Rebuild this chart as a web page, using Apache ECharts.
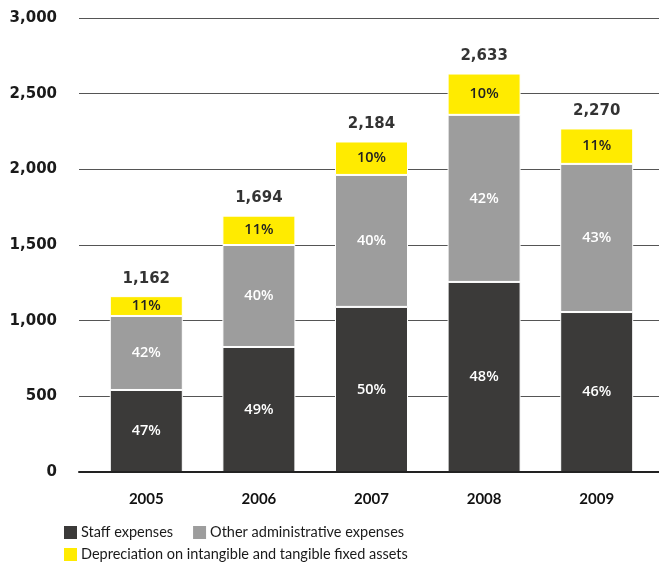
<!DOCTYPE html>
<html><head><meta charset="utf-8">
<script src="https://cdn.jsdelivr.net/npm/echarts@6/dist/echarts.min.js"></script>
<style>html,body{margin:0;padding:0;background:#fff}#c{width:659px;height:565px}</style>
</head><body><div id="c"></div>
<script>
var years = ['2005','2006','2007','2008','2009'];
var staff = [542, 826, 1091, 1256, 1057];
var other = [489, 674, 872, 1104, 979];
var depreciation = [131, 194, 221, 273, 234];
var totals = [1162, 1694, 2184, 2633, 2270];
var staffPct = ['47%','49%','50%','48%','46%'];
var otherPct = ['42%','40%','40%','42%','43%'];
var depPct = ['11%','11%','10%','10%','11%'];
var yTicks = [0, 500, 1000, 1500, 2000, 2500, 3000];

var FONT = 'Lato, "DejaVu Sans", sans-serif';
var HEAVY = '"DejaVu Sans", sans-serif';
var PCT = '"Open Sans", Lato, sans-serif';
var chart = echarts.init(document.getElementById('c'));
function fmt(v){ return v.toLocaleString('en-US'); }
function seg(name, data, pct, color, txt){
  return {
    name: name, type: 'bar', stack: 'a', xAxisIndex: 0, yAxisIndex: 0,
    data: data, barWidth: 73,
    itemStyle: {color: color, borderColor: '#fff', borderWidth: 1},
    label: {show: true, position: 'inside', color: txt, fontFamily: PCT, fontSize: 14.5, fontWeight: 600,
      formatter: function(p){ return pct[p.dataIndex]; }}
  };
}
chart.setOption({
  animation: false,
  grid: [
    {left: 90, right: 6, top: 18, bottom: 93},
    {left: 79, right: 0, top: 18, bottom: 93}
  ],
  xAxis: [
    {type: 'category', gridIndex: 0, data: years,
     axisLine: {show: false}, axisTick: {show: false},
     axisLabel: {color: '#111', fontFamily: FONT, fontWeight: 'bold', fontSize: 15, margin: 20}},
    {type: 'value', gridIndex: 1, min: 0, max: 1, z: 10,
     axisLine: {show: true, lineStyle: {color: '#222', width: 2}}, axisTick: {show: false},
     axisLabel: {show: false}, splitLine: {show: false}}
  ],
  yAxis: [
    {type: 'value', gridIndex: 0, min: 0, max: 3000, interval: 500, show: false},
    {type: 'value', gridIndex: 1, min: 0, max: 3000, interval: 500, z: 0,
     axisLine: {show: false}, axisTick: {show: false},
     axisLabel: {color: '#1a1a1a', fontFamily: HEAVY, fontWeight: 'bold', fontSize: 15, margin: 22,
       formatter: function(v){ return yTicks.indexOf(v) >= 0 ? fmt(v) : ''; }},
     splitLine: {show: true, lineStyle: {color: '#555', width: 1}}}
  ],
  legend: [
    {left: 57, top: 519, itemWidth: 15, itemHeight: 15, itemGap: 18, icon: 'rect',
     data: ['Staff expenses', 'Other administrative expenses'],
     textStyle: {color: '#1a1a1a', fontFamily: FONT, fontSize: 14.5, padding: [0,0,0,-2]}},
    {left: 57, top: 541, itemWidth: 15, itemHeight: 15, icon: 'rect',
     data: ['Depreciation on intangible and tangible fixed assets'],
     textStyle: {color: '#1a1a1a', fontFamily: FONT, fontSize: 14.5, padding: [0,0,0,-2]}}
  ],
  series: [
    seg('Staff expenses', staff, staffPct, '#3b3a39', '#fff'),
    seg('Other administrative expenses', other, otherPct, '#9d9d9d', '#fff'),
    seg('Depreciation on intangible and tangible fixed assets', depreciation, depPct, '#ffeb00', '#222'),
    {type: 'scatter', xAxisIndex: 0, yAxisIndex: 0, symbolSize: 0, silent: true,
     data: totals.map(function(t, i){ return [i, t]; }),
     label: {show: true, position: 'top', distance: 10, color: '#000', fontFamily: HEAVY,
       fontWeight: 'bold', fontSize: 15, formatter: function(p){ return fmt(p.value[1]); }}}
  ]
});
</script></body></html>
